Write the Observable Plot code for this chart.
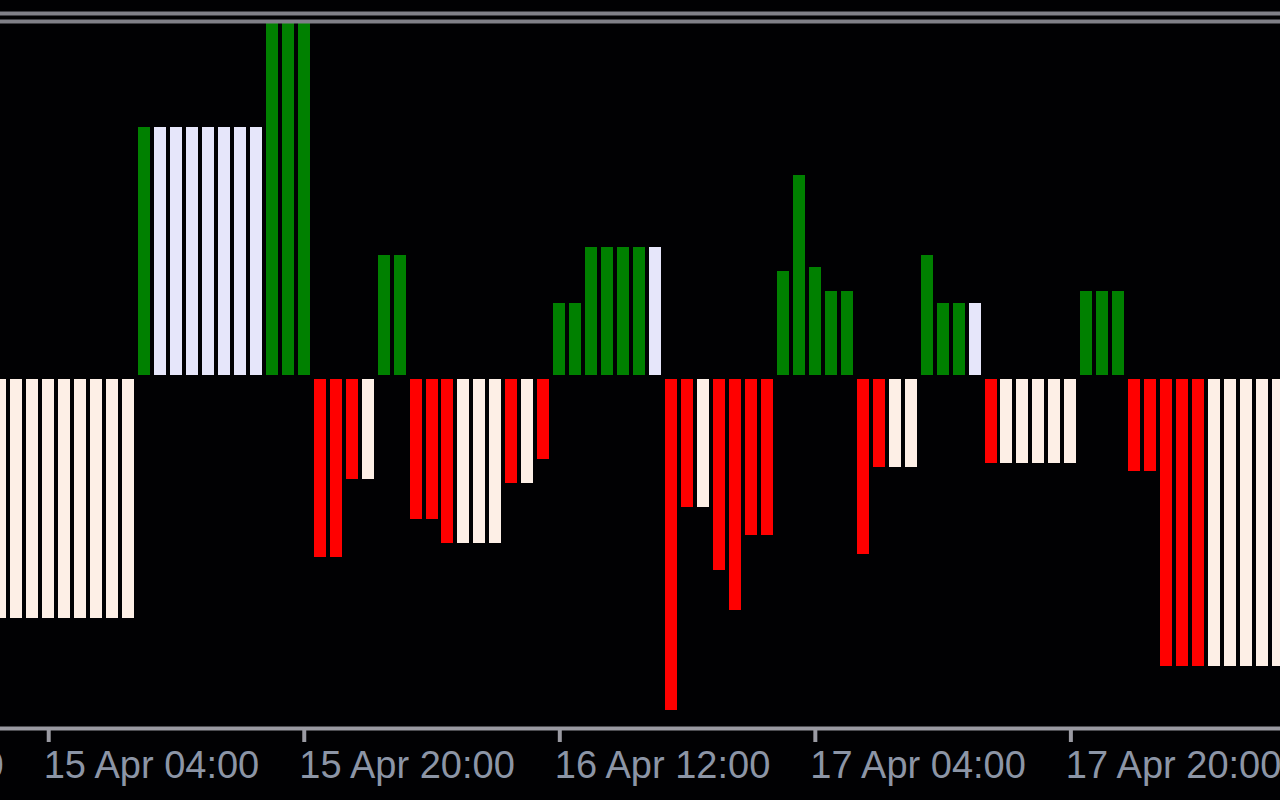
<!DOCTYPE html>
<html>
<head>
<meta charset="utf-8">
<script src="https://cdn.jsdelivr.net/npm/d3@7"></script>
<script src="https://cdn.jsdelivr.net/npm/@observablehq/plot@0.6"></script>
<style>
  html, body { margin: 0; padding: 0; background: #010103; overflow: hidden; }
  #chart { width: 1280px; height: 800px; }
</style>
</head>
<body>
<div id="chart"></div>
<script>
// One bar per hour, bar 0 = 15 Apr 01:00
const barIndex = d3.range(0, 81);

const values = [
  -120.5, -120.5, -120.5, -120.5, -120.5, -120.5, -120.5, -120.5, -120.5, // 0-8
  125, 125, 125, 125, 125, 125, 125, 125,                                // 9-16
  180, 180, 180,                                                         // 17-19
  -90, -90, -51, -51,                                                    // 20-23
  61, 61,                                                                // 24-25
  -71, -71, -83, -83, -83, -83, -53, -53, -41,                           // 26-34
  37, 37, 65, 65, 65, 65, 65,                                            // 35-41
  -166.5, -65, -65, -96.5, -116.5, -79, -79,                             // 42-48
  53, 101, 55, 43, 43,                                                   // 49-53
  -88.5, -45, -45, -45,                                                  // 54-57
  61, 37, 37, 37,                                                        // 58-61
  -43, -43, -43, -43, -43, -43,                                          // 62-67
  43, 43, 43,                                                            // 68-70
  -47, -47, -144.5, -144.5, -144.5, -144.5, -144.5, -144.5, -144.5, -144.5 // 71-80
];

const states = [
  "dnWeak", "dnWeak", "dnWeak", "dnWeak", "dnWeak", "dnWeak", "dnWeak", "dnWeak", "dnWeak",
  "up", "upWeak", "upWeak", "upWeak", "upWeak", "upWeak", "upWeak", "upWeak",
  "up", "up", "up",
  "dn", "dn", "dn", "dnWeak",
  "up", "up",
  "dn", "dn", "dn", "dnWeak", "dnWeak", "dnWeak", "dn", "dnWeak", "dn",
  "up", "up", "up", "up", "up", "up", "upWeak",
  "dn", "dn", "dnWeak", "dn", "dn", "dn", "dn",
  "up", "up", "up", "up", "up",
  "dn", "dn", "dnWeak", "dnWeak",
  "up", "up", "up", "upWeak",
  "dn", "dnWeak", "dnWeak", "dnWeak", "dnWeak", "dnWeak",
  "up", "up", "up",
  "dn", "dn", "dn", "dn", "dn", "dnWeak", "dnWeak", "dnWeak", "dnWeak", "dnWeak"
];

const stateNames = ["up", "upWeak", "dn", "dnWeak"];
const stateColors = ["#008000", "#e6e6fa", "#ff0000", "#fdefe6"];

const tickIndex = [-13, 3, 19, 35, 51, 67];
const tickLabels = ["14 Apr 12:00", "15 Apr 04:00", "15 Apr 20:00", "16 Apr 12:00", "17 Apr 04:00", "17 Apr 20:00"];

const data = barIndex.map((i, k) => ({i, v: values[k], s: states[k]}));
const pos = data.filter(d => d.v > 0);
const neg = data.filter(d => d.v < 0);
const half = 0.3757;

const frameColor = "#808088";
const axisColor = "#9a9aa2";
const textColor = "#8c95a6";

const chart = Plot.plot({
  width: 1280,
  height: 800,
  marginTop: 23,
  marginBottom: 72,
  marginLeft: 0,
  marginRight: 0,
  style: {background: "#010103", overflow: "hidden", fontFamily: "'Liberation Sans', Arial, sans-serif"},
  x: {type: "linear", domain: [0, 80], range: [0.3, 1278], axis: null},
  y: {domain: [-175.5, 177], axis: null},
  color: {domain: stateNames, range: stateColors},
  marks: [
    Plot.rectY(pos, {x1: d => d.i - half, x2: d => d.i + half, y1: 0, y2: "v", fill: "s", insetBottom: 2, clip: true, shapeRendering: "crispEdges"}),
    Plot.rectY(neg, {x1: d => d.i - half, x2: d => d.i + half, y1: 0, y2: "v", fill: "s", insetTop: 2, clip: true, shapeRendering: "crispEdges"}),
    Plot.frame({anchor: "top", dy: -10, stroke: frameColor, strokeWidth: 4}),
    Plot.frame({anchor: "top", dy: -2, stroke: frameColor, strokeWidth: 4}),
    Plot.frame({anchor: "bottom", stroke: axisColor, strokeWidth: 4}),
    Plot.axisX(tickIndex, {tickSize: 14, tickFormat: () => "", stroke: axisColor, strokeWidth: 4}),
    Plot.text(tickIndex, {
      x: d => d,
      text: (d, k) => tickLabels[k],
      frameAnchor: "bottom",
      lineAnchor: "bottom",
      textAnchor: "start",
      dx: -5,
      dy: 49,
      fontSize: 38,
      fill: textColor
    })
  ]
});
document.getElementById("chart").appendChild(chart);
</script>
</body>
</html>
